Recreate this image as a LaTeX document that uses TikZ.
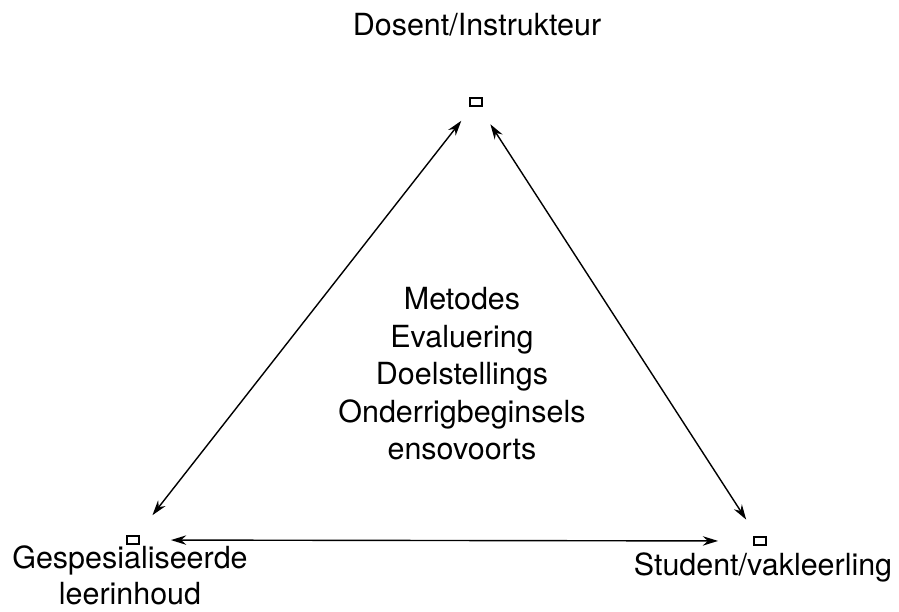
\documentclass[tikz,border=0pt]{standalone}
\usepackage{fontspec}
\setmainfont{TeX Gyre Heros}
\usetikzlibrary{arrows.meta, positioning}
\tikzstyle{corner} = [rectangle, draw=black, line width=1.6pt, minimum width=0.36cm, minimum height=0.22cm, inner sep=0pt]
\tikzstyle{term} = [align=center, inner sep=0pt, font=\fontsize{26}{32}\selectfont]
\tikzstyle{arrow} = [line width=1.2pt, {Stealth[length=13pt,width=8pt]}-{Stealth[length=13pt,width=8pt]}]

\begin{document}
\begin{tikzpicture}[x=0.03cm, y=-0.03cm]
	\useasboundingbox (0,0) rectangle (899,611);
	\node (DosentBox) [corner] at (476,102) {};
	\node (InhoudBox) [corner] at (133,540) {};
	\node (StudentBox) [corner] at (760,541) {};
	\node (Dosent) [term, anchor=base] at (477,35) {Dosent/Instrukteur};
	\node (Inhoud) [term, font=\fontsize{26}{30.5}\selectfont] at (130,575) {Gespesialiseerde\\leerinhoud};
	\node (Student) [term, anchor=base] at (763,575) {Student/vakleerling};
	\node (Aspekte) [term] at (462,374) {Metodes\\Evaluering\\Doelstellings\\Onderrigbeginsels\\ensovoorts};
	\draw [arrow, shorten <=5.4mm, shorten >=7.7mm] (DosentBox) -- (InhoudBox);
	\draw [arrow, shorten <=6.3mm, shorten >=6mm] (DosentBox) -- (StudentBox);
	\draw [arrow, shorten <=9.3mm, shorten >=10.5mm] (InhoudBox) -- (StudentBox);
\end{tikzpicture}
\end{document}
